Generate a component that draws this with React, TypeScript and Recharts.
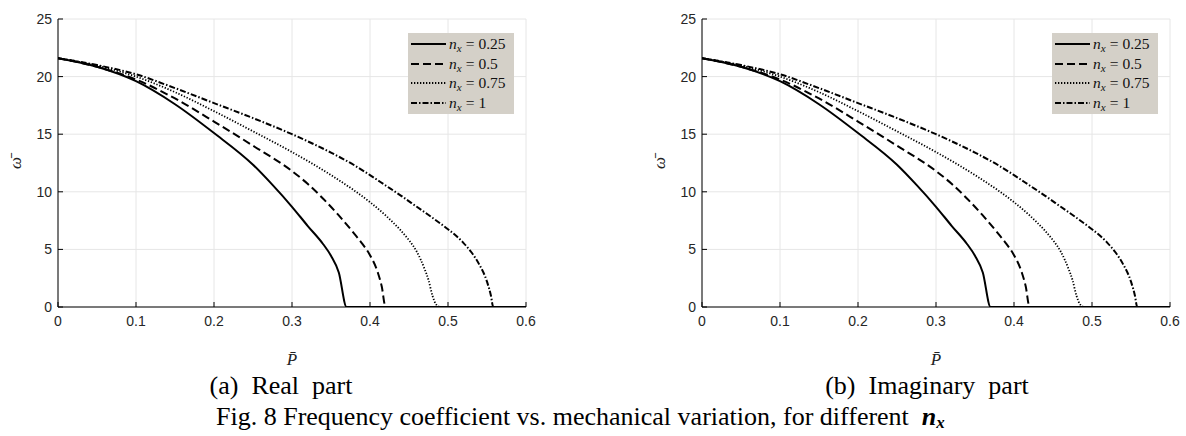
import React from 'react';
import { LineChart, Line, XAxis, YAxis, CartesianGrid, Legend, Label } from 'recharts';

// axis ticks
const P_TICKS = [0, 0.1, 0.2, 0.3, 0.4, 0.5, 0.6];
const W_TICKS = [0, 5, 10, 15, 20, 25];

// n_x = 0.25
const p025 = [0, 0.05, 0.1, 0.15, 0.2, 0.25, 0.275, 0.3, 0.32, 0.34, 0.35, 0.36, 0.37, 0.6];
const w025 = [21.6, 20.85, 19.6, 17.6, 15.1, 12.35, 10.6, 8.7, 7.05, 5.45, 4.45, 3.0, 0, 0];

// n_x = 0.5
const p05 = [0, 0.05, 0.1, 0.15, 0.2, 0.25, 0.3, 0.32, 0.34, 0.36, 0.38, 0.39, 0.4, 0.41, 0.415, 0.42, 0.6];
const w05 = [21.6, 20.85, 19.75, 18.1, 16.1, 14.0, 11.8, 10.7, 9.4, 7.95, 6.35, 5.5, 4.5, 3.0, 1.8, 0, 0];

// n_x = 0.75
const p075 = [0, 0.05, 0.1, 0.15, 0.2, 0.25, 0.3, 0.35, 0.38, 0.4, 0.42, 0.44, 0.45, 0.46, 0.47, 0.475, 0.48, 0.485, 0.49, 0.6];
const w075 = [21.6, 20.95, 20.0, 18.65, 17.0, 15.25, 13.45, 11.45, 10.1, 9.1, 7.95, 6.6, 5.8, 4.8, 3.3, 2.35, 1.0, 0.2, 0, 0];

// n_x = 1
const p1 = [0, 0.05, 0.1, 0.15, 0.2, 0.25, 0.3, 0.35, 0.38, 0.4, 0.42, 0.44, 0.46, 0.48, 0.5, 0.51, 0.52, 0.53, 0.54, 0.55, 0.555, 0.558, 0.6];
const w1 = [21.6, 21.0, 20.2, 19.0, 17.7, 16.4, 15.0, 13.4, 12.3, 11.45, 10.55, 9.65, 8.7, 7.75, 6.75, 6.2, 5.55, 4.75, 3.7, 2.2, 1.0, 0, 0];

const toPoints = (p: number[], w: number[]) => p.map((v, i) => ({ p: v, w: w[i] }));

const series = [
  { key: 'n1', label: '1', data: toPoints(p1, w1), dash: '6 2 1.5 2', width: 2 },
  { key: 'n075', label: '0.75', data: toPoints(p075, w075), dash: '1.3 1.7', width: 1.8 },
  { key: 'n05', label: '0.5', data: toPoints(p05, w05), dash: '8 4', width: 2 },
  { key: 'n025', label: '0.25', data: toPoints(p025, w025), dash: undefined, width: 2 },
];

const tickFont = { fill: '#262626', fontSize: 14, fontFamily: 'Liberation Sans, Arial, sans-serif' };
const serif = 'Liberation Serif, "Times New Roman", serif';

function LegendBox() {
  const rows = [...series].reverse();
  return (
    <div style={{ width: 106, height: 81, background: '#d4d0c8', boxSizing: 'border-box', paddingTop: 1 }}>
      {rows.map((s) => (
        <div key={s.key} style={{ display: 'flex', alignItems: 'center', height: 19.7, paddingLeft: 3 }}>
          <svg width={35} height={6}>
            <line x1={0} y1={3} x2={35} y2={3} stroke="#000" strokeWidth={s.width} strokeDasharray={s.dash} />
          </svg>
          <span style={{ fontFamily: serif, fontSize: 15.5, marginLeft: 3, color: '#111', whiteSpace: 'nowrap' }}>
            <i>n</i>
            <i style={{ fontSize: 11, position: 'relative', top: 3 }}>x</i>
            <span style={{ margin: '0 4px' }}>=</span>
            {s.label}
          </span>
        </div>
      ))}
    </div>
  );
}

function XLabel(props: any) {
  const vb = props.viewBox;
  return (
    <text x={vb.x + vb.width / 2} y={vb.y + 58} textAnchor="middle" fontFamily={serif} fontStyle="italic" fontSize={17} fill="#222">
      P̄
    </text>
  );
}

function YLabel(props: any) {
  const vb = props.viewBox;
  const x = vb.x + 9;
  const y = vb.y + vb.height / 2;
  return (
    <text x={x} y={y} transform={`rotate(-90 ${x} ${y})`} textAnchor="middle" dominantBaseline="middle" fontFamily={serif} fontStyle="italic" fontSize={17} fill="#222">
      ω̄
    </text>
  );
}

function FreqChart({ left }: { left: number }) {
  return (
    <div style={{ position: 'absolute', left, top: 0 }}>
      <LineChart width={560} height={375} margin={{ top: 19, right: 34, bottom: 35, left: 8 }}>
        <CartesianGrid stroke="#e6e6e6" strokeWidth={1} />
        <XAxis
          xAxisId="top"
          orientation="top"
          type="number"
          dataKey="p"
          domain={[0, 0.6]}
          ticks={P_TICKS}
          tick={false}
          tickSize={-5}
          height={0}
          axisLine={{ stroke: '#000' }}
          tickLine={{ stroke: '#000' }}
        />
        <XAxis
          type="number"
          dataKey="p"
          domain={[0, 0.6]}
          ticks={P_TICKS}
          allowDataOverflow
          tickSize={-5}
          tickMargin={14}
          height={33}
          axisLine={{ stroke: '#000' }}
          tickLine={{ stroke: '#000' }}
          tick={tickFont}
        >
          <Label content={<XLabel />} />
        </XAxis>
        <YAxis
          yAxisId="right"
          orientation="right"
          type="number"
          domain={[0, 25]}
          ticks={W_TICKS}
          tick={false}
          tickSize={-5}
          width={0}
          axisLine={{ stroke: '#000' }}
          tickLine={{ stroke: '#000' }}
        />
        <YAxis
          type="number"
          domain={[0, 25]}
          ticks={W_TICKS}
          allowDataOverflow
          tickSize={-5}
          tickMargin={11}
          width={50}
          axisLine={{ stroke: '#000' }}
          tickLine={{ stroke: '#000' }}
          tick={tickFont}
        >
          <Label content={<YLabel />} />
        </YAxis>
        <Legend
          layout="vertical"
          align="center"
          verticalAlign="middle"
          content={() => <LegendBox />}
          wrapperStyle={{ left: 408, top: 33, width: 106, height: 81 }}
        />
        {series.map((s) => (
          <Line
            key={s.key}
            data={s.data}
            dataKey="w"
            type="monotone"
            stroke="#000"
            strokeWidth={s.width}
            strokeDasharray={s.dash}
            dot={false}
            activeDot={false}
            isAnimationActive={false}
          />
        ))}
      </LineChart>
    </div>
  );
}

export default function App() {
  return (
    <div style={{ position: 'absolute', left: 0, top: 0, width: 1186, height: 436, background: '#fff', overflow: 'hidden' }}>
      <FreqChart left={0} />
      <FreqChart left={644} />
      <div style={{ position: 'absolute', left: 131, width: 300, top: 371, textAlign: 'center', fontFamily: serif, fontSize: 26, lineHeight: '30px', whiteSpace: 'pre' }}>
        {'(a)  Real  part'}
      </div>
      <div style={{ position: 'absolute', left: 777, width: 300, top: 371, textAlign: 'center', fontFamily: serif, fontSize: 26, lineHeight: '30px', whiteSpace: 'pre' }}>
        {'(b)  Imaginary  part'}
      </div>
      <div style={{ position: 'absolute', left: 216, top: 403, fontFamily: serif, fontSize: 26, lineHeight: '28px', whiteSpace: 'pre' }}>
        {'Fig. 8 Frequency coefficient vs. mechanical variation, for different  '}
        <b>
          <i>n</i>
          <i style={{ fontSize: 17, position: 'relative', top: 3 }}>x</i>
        </b>
      </div>
    </div>
  );
}
